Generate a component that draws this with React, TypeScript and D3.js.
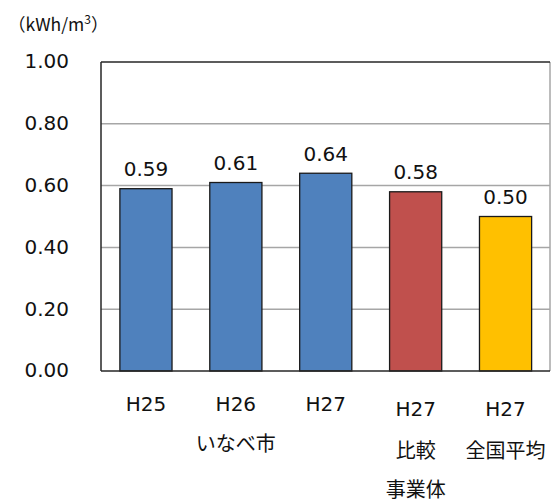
import React from "react";
import * as d3 from "d3";

// Energy use per cubic metre of water, in kWh/m3
const categories = ["H25", "H26", "H27", "H27 比較", "H27 全国平均"];
const values = [0.59, 0.61, 0.64, 0.58, 0.5];
const barColors = ["#4F81BD", "#4F81BD", "#4F81BD", "#C0504D", "#FFC000"];
const tickValues = [0, 0.2, 0.4, 0.6, 0.8, 1.0];
// label lines under each bar
const labelLines: string[][] = [["H25"], ["H26"], ["H27"], ["H27", "比較", "事業体"], ["H27", "全国平均"]];
const groupLabel = "いなべ市";

const W = 551;
const H = 502;
const m = { left: 101, right: 0.5, top: 62, bottom: 131 };
const FONT = "'DejaVu Sans', Verdana, sans-serif";
const JP = "'Noto Sans CJK JP', 'DejaVu Sans', sans-serif";

export default function App() {
  const x = d3
    .scaleBand<string>()
    .domain(categories)
    .range([m.left, W - m.right])
    .paddingInner(0.42)
    .paddingOuter(0.21);
  const y = d3.scaleLinear().domain([0, 1]).range([H - m.bottom, m.top]);
  const bw = x.bandwidth();
  const cx = (c: string) => (x(c) as number) + bw / 2;

  return (
    <svg
      width={W}
      height={H}
      style={{ position: "absolute", left: 0, top: 0, background: "#fff" }}
    >
      {/* gridlines */}
      {tickValues.slice(1, -1).map((t) => (
        <line key={t} x1={m.left} x2={W - 1} y1={y(t)} y2={y(t)} stroke="#A6A6A6" strokeWidth={1.5} />
      ))}
      {/* frame */}
      <line x1={W - 1} x2={W - 1} y1={y(1)} y2={y(0)} stroke="#A6A6A6" strokeWidth={1.5} />
      <line x1={m.left} x2={W - 1} y1={y(1)} y2={y(1)} stroke="#262626" strokeWidth={1.5} />
      <line x1={m.left} x2={m.left} y1={y(1)} y2={y(0)} stroke="#262626" strokeWidth={1.5} />

      {/* bars */}
      {categories.map((c, i) => (
        <rect
          key={c}
          x={x(c)}
          y={y(values[i])}
          width={bw}
          height={y(0) - y(values[i])}
          fill={barColors[i]}
          stroke="#1a1a1a"
          strokeWidth={1.3}
        />
      ))}
      <line x1={m.left} x2={W - 1} y1={y(0)} y2={y(0)} stroke="#262626" strokeWidth={1.5} />

      {/* value labels */}
      {categories.map((c, i) => (
        <text
          key={c}
          x={cx(c)}
          y={y(values[i]) - 12.5}
          textAnchor="middle"
          fontFamily={FONT}
          fontSize={20}
          fill="#111"
        >
          {values[i].toFixed(2)}
        </text>
      ))}

      {/* y tick labels */}
      {tickValues.map((t) => (
        <text
          key={t}
          x={69}
          y={y(t)}
          dy="0.32em"
          textAnchor="end"
          fontFamily={FONT}
          fontSize={20}
          fill="#111"
        >
          {t.toFixed(2)}
        </text>
      ))}

      {/* unit */}
      <text x={8} y={31} fontFamily={JP} fontSize={17.5} fill="#111">
        （kWh/m<tspan dy={-7} fontSize={12}>3</tspan>
        <tspan dy={7}>）</tspan>
      </text>

      {/* category labels */}
      {categories.map((c, i) => {
        const baseY = i < 3 ? 411 : 416;
        return labelLines[i].map((ln, j) => (
          <text
            key={c + j}
            x={cx(c)}
            y={baseY + j * 39 + (j > 0 ? 3 : 0)}
            textAnchor="middle"
            fontFamily={j === 0 ? FONT : JP}
            fontSize={20}
            fill="#111"
          >
            {ln}
          </text>
        ));
      })}
      <text
        x={cx(categories[1])}
        y={451}
        textAnchor="middle"
        fontFamily={JP}
        fontSize={20}
        fill="#111"
      >
        {groupLabel}
      </text>
    </svg>
  );
}
